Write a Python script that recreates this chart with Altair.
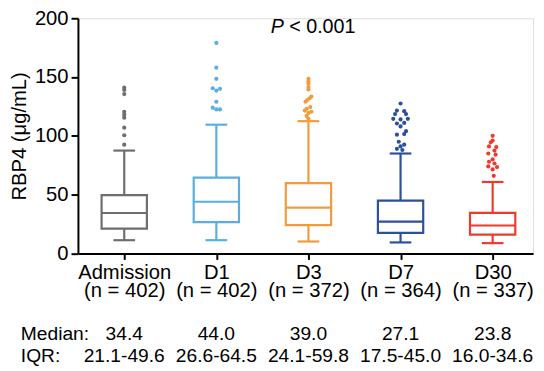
import json
import altair as alt
import pandas as pd

# ---------------- data ----------------
categories = ["Admission", "D1", "D3", "D7", "D30"]
n_values = [402, 402, 372, 364, 337]
colors = ["#6e6e6e", "#5aaee0", "#f09c3c", "#2c4f9e", "#f0392d"]

medians = [34.4, 44.0, 39.0, 27.1, 23.8]
q1_values = [21.1, 26.6, 24.1, 17.5, 16.0]
q3_values = [49.6, 64.5, 59.8, 45.0, 34.6]
whisker_low = [11.3, 11.3, 10.2, 9.4, 8.8]
whisker_high = [87.5, 109.5, 112.5, 85.0, 60.8]

out_admission = [141.0, 139.0, 135.5, 120.5, 118.0, 115.5, 107.0, 100.5, 92.5]
slot_admission = [0, 0, 0, 0, 0, 0, 0, 0, 0]
out_d1 = [179.0, 158.0, 148.5, 140.5, 138.5, 140.0, 129.0, 124.0, 122.5, 122.5]
slot_d1 = [0, 0, 0, -1, 0, 1, 0, -1, 0, 1]
out_d3 = [148.5, 146.5, 144.5, 141.5, 139.5, 133.5, 132.0, 130.5, 129.0,
          124.5, 123.0, 121.5, 120.5, 119.5, 117.0, 114.5]
slot_d3 = [0, 0, 0, 0, 0, 0.8, 0.3, -0.3, -0.8, 0.5, -0.5, -1, 0.8, 0, -0.5, 0]
out_d7 = [127.5, 121.5, 121.0, 118.5, 118.5, 114.5, 114.0, 114.5, 110.5, 111.0,
          108.0, 104.0, 101.0, 101.5, 95.0, 92.5, 91.0, 89.0, 88.0]
slot_d7 = [0, -1, 1, -1.5, 1.5, -2, 0, 2, -1, 1, 0, 1.5, -1, 1, -0.5, 1, 0, -1, 0.5]
out_d30 = [100.0, 96.0, 94.5, 91.0, 90.5, 87.5, 85.0, 84.0, 80.0, 78.0, 76.5,
           74.0, 73.5, 71.5, 66.0]
slot_d30 = [0, 0, -0.5, -1, 1, 0.5, -1.2, 0.8, 0, -1, 0.5, -1.2, 1.2, 0, 0.3]

outlier_values = [out_admission, out_d1, out_d3, out_d7, out_d30]
outlier_slots = [slot_admission, slot_d1, slot_d3, slot_d7, slot_d30]

y_ticks = [0, 50, 100, 150, 200]
p_text = "< 0.001"
row_labels = ["Median:", "IQR:"]

# ---------------- tables ----------------
boxes = pd.DataFrame({
    "group": categories,
    "idx": list(range(len(categories))),
    "med": medians,
    "q1": q1_values,
    "q3": q3_values,
    "lo": whisker_low,
    "hi": whisker_high,
    "med_label": [f"{m:.1f}" for m in medians],
    "iqr_label": [f"{a:.1f}-{b:.1f}" for a, b in zip(q1_values, q3_values)],
})

rows = []
for i, (vals, slots) in enumerate(zip(outlier_values, outlier_slots)):
    for v, s in zip(vals, slots):
        rows.append({"group": categories[i], "idx": i, "value": v, "slot": s})
outliers = pd.DataFrame(rows)

one_row = pd.DataFrame({"k": [0]})

label_lines = [[c, f"(n = {n})"] for c, n in zip(categories, n_values)]
label_expr = json.dumps(label_lines) + "[datum.value]"

FONT = "Liberation Sans"
FS = 20.5
FS_ROW = 19.5
W, H = 462, 238.8
step = 93.5
x_left = -47 / step
x_right = x_left + W / step
BOX_HALF = 23 / step
CAP_HALF = 11 / step
SLOT = 3.7 / step

color_scale = alt.Scale(domain=categories, range=colors)

x_enc = alt.X(
    "idx:Q",
    scale=alt.Scale(domain=[x_left, x_right], nice=False, zero=False),
    axis=alt.Axis(
        values=list(range(len(categories))),
        labelExpr=label_expr,
        title=None,
        grid=False,
        tickSize=6,
        tickWidth=2,
        tickColor="black",
        domainWidth=2,
        domainColor="black",
        labelFontSize=FS,
        labelFont=FONT,
        labelColor="black",
        labelLineHeight=19,
        labelPadding=3,
        labelFlush=False,
        labelOverlap=False,
    ),
)
y_scale = alt.Scale(domain=[0, 200], nice=False, zero=True)
y_axis = alt.Axis(
    values=y_ticks,
    title="RBP4 (μg/mL)",
    titleFont=FONT,
    titleFontSize=FS,
    titleFontWeight="normal",
    titleColor="black",
    titlePadding=5,
    grid=False,
    tickSize=7,
    tickWidth=2,
    tickColor="black",
    domainWidth=2,
    domainColor="black",
    labelFontSize=FS,
    labelFont=FONT,
    labelColor="black",
    labelPadding=3,
)

base = alt.Chart(boxes)
single = alt.Chart(one_row)

whisker = base.mark_rule(strokeWidth=2.2).encode(
    x=x_enc,
    y=alt.Y("lo:Q", scale=y_scale, axis=y_axis),
    y2="hi:Q",
    color=alt.Color("group:N", scale=color_scale, legend=None),
)

box = base.transform_calculate(
    xa=f"datum.idx - {BOX_HALF}", xb=f"datum.idx + {BOX_HALF}"
).mark_rect(fill="white", strokeWidth=2.2).encode(
    x="xa:Q", x2="xb:Q",
    y="q1:Q", y2="q3:Q",
    stroke=alt.Stroke("group:N", scale=color_scale, legend=None),
)

median = base.transform_calculate(
    xa=f"datum.idx - {BOX_HALF}", xb=f"datum.idx + {BOX_HALF}"
).mark_rule(strokeWidth=2.2).encode(
    x="xa:Q", x2="xb:Q", y="med:Q",
    color=alt.Color("group:N", scale=color_scale, legend=None),
)

cap_lo = base.transform_calculate(
    xa=f"datum.idx - {CAP_HALF}", xb=f"datum.idx + {CAP_HALF}"
).mark_rule(strokeWidth=2.2).encode(
    x="xa:Q", x2="xb:Q", y="lo:Q",
    color=alt.Color("group:N", scale=color_scale, legend=None),
)
cap_hi = base.transform_calculate(
    xa=f"datum.idx - {CAP_HALF}", xb=f"datum.idx + {CAP_HALF}"
).mark_rule(strokeWidth=2.2).encode(
    x="xa:Q", x2="xb:Q", y="hi:Q",
    color=alt.Color("group:N", scale=color_scale, legend=None),
)

points = alt.Chart(outliers).transform_calculate(
    xp=f"datum.idx + datum.slot * {SLOT}"
).mark_circle(size=18, opacity=1).encode(
    x="xp:Q",
    y="value:Q",
    color=alt.Color("group:N", scale=color_scale, legend=None),
)

MED_Y = 321
IQR_Y = 343

med_text = base.mark_text(font=FONT, fontSize=FS_ROW, align="center", baseline="middle",
                          color="black").encode(
    x="idx:Q", y=alt.value(MED_Y), text="med_label:N")
iqr_text = base.mark_text(font=FONT, fontSize=FS_ROW, align="center", baseline="middle",
                          color="black").encode(
    x="idx:Q", y=alt.value(IQR_Y), text="iqr_label:N")
med_lab = single.mark_text(font=FONT, fontSize=FS_ROW, align="left", baseline="middle",
                           color="black").encode(
    x=alt.value(-58), y=alt.value(MED_Y), text=alt.value(row_labels[0]))
iqr_lab = single.mark_text(font=FONT, fontSize=FS_ROW, align="left", baseline="middle",
                           color="black").encode(
    x=alt.value(-58), y=alt.value(IQR_Y), text=alt.value(row_labels[1]))

p_italic = single.mark_text(font=FONT, fontSize=20, fontStyle="italic", align="right",
                            baseline="alphabetic", color="black", dx=-25).encode(
    x=alt.datum(2), y=alt.value(14.8), text=alt.value("P"))
p_rest = single.mark_text(font=FONT, fontSize=20, align="left",
                          baseline="alphabetic", color="black", dx=-19.5).encode(
    x=alt.datum(2), y=alt.value(14.8), text=alt.value(p_text))

chart = alt.layer(
    whisker, box, median, cap_lo, cap_hi, points,
    med_text, iqr_text, med_lab, iqr_lab, p_italic, p_rest,
).properties(
    width=W, height=H,
    autosize=alt.AutoSizeParams(type="none"),
    padding={"left": 71, "top": 7.7, "right": 3, "bottom": 111},
).configure_view(stroke=None).configure(font=FONT)

chart.save("out.html", embed_options={"renderer": "svg", "actions": False})
